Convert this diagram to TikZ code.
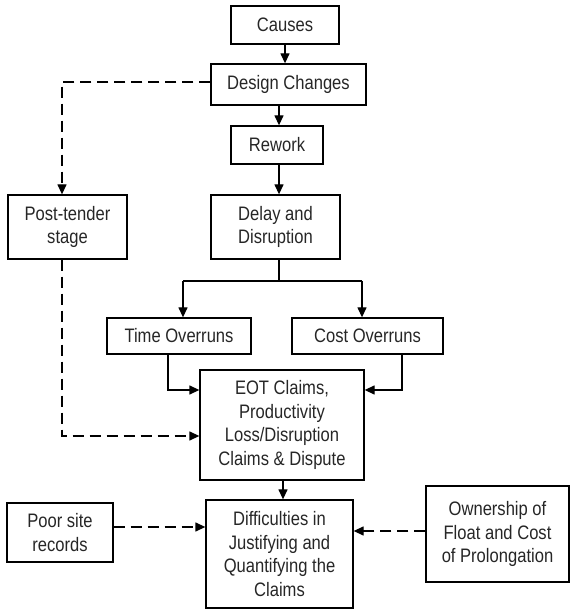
\documentclass[tikz,border=0pt]{standalone}
\usepackage{fontspec}
\setmainfont{Liberation Sans}[FakeStretch=0.85]
\usetikzlibrary{arrows.meta}
\begin{document}
\begin{tikzpicture}[x=1pt,y=1pt,
  box/.style={draw, line width=1.3pt, align=center, inner sep=0pt,
    font=\fontsize{19.5}{23.5}\selectfont, text=black!85},
  arr/.style={line width=1.3pt, -{Triangle[length=10pt,width=9pt]}},
  darr/.style={arr, dash pattern=on 11pt off 6pt}]
\useasboundingbox (0,0) rectangle (571,610);
% nodes (centre x, 610 - centre y)
\node[box, minimum width=108pt, minimum height=38pt] (causes) at (285,585) {Causes};
\node[box, minimum width=155pt, minimum height=41pt] (design) at (288.5,525.5) {Design Changes};
\node[box, minimum width=92pt, minimum height=38pt] (rework) at (277,465) {Rework};
\node[box, minimum width=129pt, minimum height=64pt] (delay) at (275.5,383) {Delay and\\Disruption};
\node[box, minimum width=119pt, minimum height=64pt] (post) at (67.5,383) {Post-tender\\stage};
\node[box, minimum width=144pt, minimum height=36pt] (time) at (179,274) {Time Overruns};
\node[box, minimum width=151pt, minimum height=36pt] (cost) at (367.5,274) {Cost Overruns};
\node[box, minimum width=164pt, minimum height=110pt] (eot) at (282,185) {EOT Claims,\\Productivity\\Loss/Disruption\\Claims \& Dispute};
\node[box, minimum width=147pt, minimum height=108pt] (diff) at (279.5,56) {Difficulties in\\Justifying and\\Quantifying the\\Claims};
\node[box, minimum width=106pt, minimum height=59pt] (poor) at (60,77.5) {Poor site\\records};
\node[box, minimum width=143pt, minimum height=96pt] (own) at (497.5,76) {Ownership of\\Float and Cost\\of Prolongation};
% helper coordinates
\coordinate (dl) at (62,528);
\coordinate (split) at (279,329);
\coordinate (tl) at (183,329);
\coordinate (cr) at (362,329);
\coordinate (tb) at (168,220);
\coordinate (cb) at (402,220);
\coordinate (pb) at (62,174);
% connectors
\draw[arr] (causes.south) -- (causes.south |- design.north);
\draw[arr] (design.south -| 279,0) -- (rework.north -| 279,0);
\draw[arr] (rework.south -| 279,0) -- (delay.north -| 279,0);
\draw[line width=1.3pt] (delay.south -| split) -- (split);
\draw[line width=1.3pt] (tl) -- (cr);
\draw[arr] (tl) -- (tl |- time.north);
\draw[arr] (cr) -- (cr |- cost.north);
\draw[arr] (time.south -| tb) -- (tb) -- (tb -| eot.west);
\draw[arr] (cost.south -| cb) -- (cb) -- (cb -| eot.east);
\draw[darr] (design.west |- dl) -- (dl) -- (dl |- post.north);
\draw[darr] (post.south -| pb) -- (pb) -- (pb -| eot.west);
\draw[arr] (eot.south -| 283,0) -- (diff.north -| 283,0);
\draw[darr] (poor.east |- 0,83) -- (diff.west |- 0,83);
\draw[darr] (own.west |- 0,79) -- (diff.east |- 0,79);
\end{tikzpicture}
\end{document}
